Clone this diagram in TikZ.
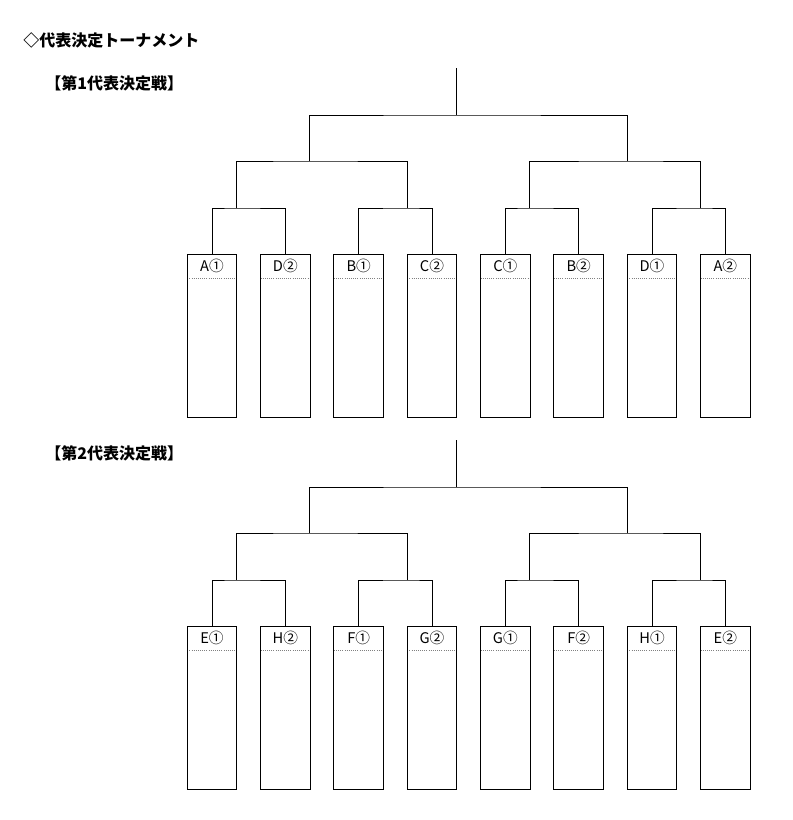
\documentclass[tikz,border=0pt]{standalone}
\usepackage{fontspec}
\setmainfont{Noto Sans CJK JP}
\usetikzlibrary{positioning}
\begin{document}
\begin{tikzpicture}[x=0.75pt, y=-0.75pt, node distance=17.2pt, line width=0.7pt,
    entry/.style = {draw, minimum width=37.1pt, minimum height=122.25pt, inner sep=0pt,
      path picture={\draw[densely dotted, gray, line width=0.6pt] ([yshift=-18pt]path picture bounding box.north west) -- ([yshift=-18pt]path picture bounding box.north east);}},
    seed/.style = {anchor=center, yshift=-9pt, inner sep=0pt, font=\fontsize{11}{12}\selectfont},
    head/.style = {anchor=west, inner sep=0pt, font=\fontsize{12}{14}\selectfont\bfseries}]
    \useasboundingbox (0,0) rectangle (792,820);
    \node[head] (title) at (23,40) {◇代表決定トーナメント};
    \node[head] (first) at (45,83) {【第1代表決定戦】};
    \node[head] (second) at (45,453) {【第2代表決定戦】};
    \foreach \off/\br/\la/\lb/\lc/\ld/\le/\lf/\lg/\lh in {0/p/A①/D②/B①/C②/C①/B②/D①/A②, 372/q/E①/H②/F①/G②/G①/F②/H①/E②} {
        \node[entry, anchor=north, label={[seed]north:\la}] (\br1) at (212,254+\off) {};
        \node[entry, right=of \br1, label={[seed]north:\lb}] (\br2) {};
        \node[entry, right=of \br2, label={[seed]north:\lc}] (\br3) {};
        \node[entry, right=of \br3, label={[seed]north:\ld}] (\br4) {};
        \node[entry, right=of \br4, label={[seed]north:\le}] (\br5) {};
        \node[entry, right=of \br5, label={[seed]north:\lf}] (\br6) {};
        \node[entry, right=of \br6, label={[seed]north:\lg}] (\br7) {};
        \node[entry, right=of \br7, label={[seed]north:\lh}] (\br8) {};
        \coordinate (\br j1) at (236,208+\off);
        \coordinate (\br j2) at (407,208+\off);
        \coordinate (\br j3) at (529,208+\off);
        \coordinate (\br j4) at (700,208+\off);
        \coordinate (\br k1) at (309,161+\off);
        \coordinate (\br k2) at (627,161+\off);
        \coordinate (\br r) at (456,115+\off);
        \coordinate (\br t) at (456,68+\off);
        \draw (\br1.north) |- (\br j1) -| (\br2.north);
        \draw (\br3.north) |- (\br j2) -| (\br4.north);
        \draw (\br5.north) |- (\br j3) -| (\br6.north);
        \draw (\br7.north) |- (\br j4) -| (\br8.north);
        \draw (\br j1) |- (\br k1) -| (\br j2);
        \draw (\br j3) |- (\br k2) -| (\br j4);
        \draw (\br k1) |- (\br r) -| (\br k2);
        \draw (\br r) -- (\br t);
    }
\end{tikzpicture}
\end{document}
